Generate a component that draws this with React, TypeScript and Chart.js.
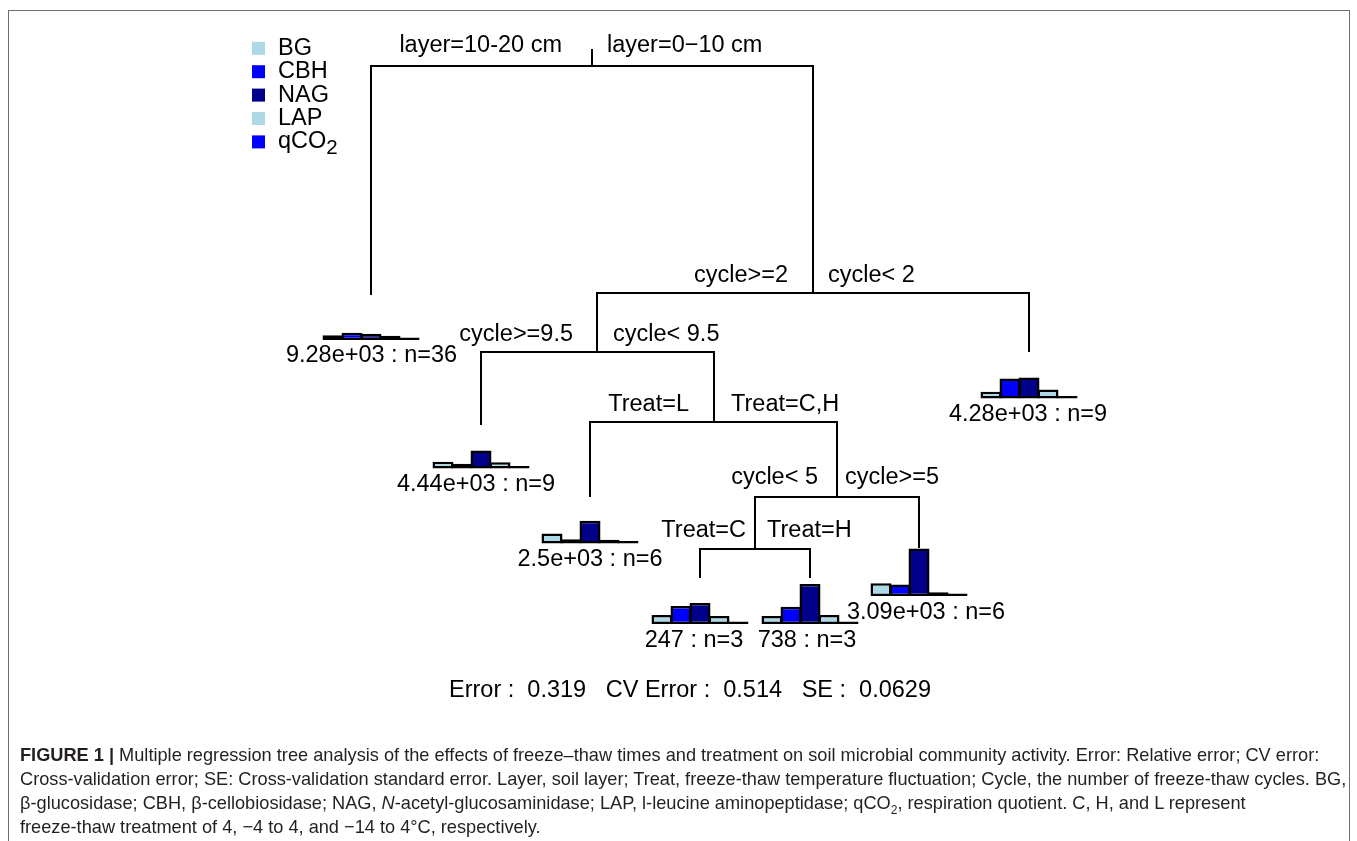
import React, { useEffect, useRef } from "react";
import { Chart, registerables } from "chart.js";

Chart.register(...registerables);

// ---------------- data ----------------
const responseNames = ["BG", "CBH", "NAG", "LAP", "qCO2"];
const responseColors = ["#ADD8E6", "#0000FF", "#00008B", "#ADD8E6", "#0000FF"];

// split labels (left branch / right branch), tree order top -> bottom
const splitLeftLabels = ["layer=10-20 cm", "cycle>=2", "cycle>=9.5", "Treat=L", "cycle< 5", "Treat=C"];
const splitRightLabels = ["layer=0\u221210 cm", "cycle< 2", "cycle< 9.5", "Treat=C,H", "cycle>=5", "Treat=H"];

// leaves, left -> right
const leafMeanLabels = ["9.28e+03", "4.44e+03", "2.5e+03", "247", "738", "3.09e+03", "4.28e+03"];
const leafCounts = [36, 9, 6, 3, 3, 6, 9];

// relative leaf means of each response (bar heights), left -> right leaves
const bgMeans = [0.1, 0.14, 0.21, 0.19, 0.17, 0.27, 0.14];
const cbhMeans = [0.15, 0.1, 0.09, 0.38, 0.36, 0.24, 0.42];
const nagMeans = [0.13, 0.38, 0.48, 0.44, 0.84, 1.0, 0.44];
const lapMeans = [0.09, 0.13, 0.08, 0.17, 0.19, 0.08, 0.19];
const qco2Means = [0.05, 0.05, 0.05, 0.05, 0.05, 0.05, 0.05];

const errorSummary = ["0.319", "0.514", "0.0629"];

// ---------------- layout ----------------
const W = 1357;
const H = 841;
const FONT = '"Liberation Sans", Arial, Helvetica, sans-serif';
const LABEL_PX = 23.5;
const BAR_UNIT_PX = 47.6;
const BAR_STEP = 19;
const BAR_WIDTH = 21;

const rootStubTop = 49;
const splitLayout = [
  { x: 592, y: 66, lx: 371, rx: 813, ly: 295, ry: 293, labelY: 52, leftEnd: 562, rightStart: 607 },
  { x: 813, y: 293, lx: 597, rx: 1029, ly: 352, ry: 352, labelY: 282, leftEnd: 788, rightStart: 828 },
  { x: 597, y: 352, lx: 481, rx: 714, ly: 425, ry: 422, labelY: 341, leftEnd: 573, rightStart: 613 },
  { x: 714, y: 422, lx: 590, rx: 837, ly: 497, ry: 497, labelY: 411, leftEnd: 689, rightStart: 731 },
  { x: 837, y: 497, lx: 755, rx: 919, ly: 549, ry: 548, labelY: 484, leftEnd: 818, rightStart: 845 },
  { x: 755, y: 549, lx: 700, rx: 810, ly: 578, ry: 578, labelY: 537, leftEnd: 746, rightStart: 767 },
];

const leafLayout = [
  { x: 371, base: 340, labelX: 371.5, labelY: 362 },
  { x: 481, base: 468.5, labelX: 476, labelY: 491 },
  { x: 590, base: 543.5, labelX: 590, labelY: 566 },
  { x: 700, base: 624, labelX: 694, labelY: 647 },
  { x: 810, base: 624, labelX: 807, labelY: 647 },
  { x: 919, base: 596, labelX: 926, labelY: 619 },
  { x: 1029, base: 398.5, labelX: 1028, labelY: 421 },
];

const legendLayout = { boxX: 252, box: 13, y0: 48.3, step: 23.4, textX: 278 };
const errorLayout = { x: 690, y: 697 };

const CAPTION_PX = 18.2;
const captionCenters = [755, 779, 803, 827];

// ---------------- chart ----------------
const responseValues = [bgMeans, cbhMeans, nagMeans, lapMeans, qco2Means];

function edgeDataset(label: string, data: { x: number; y: number }[]) {
  return {
    type: "line",
    label,
    xAxisID: "x",
    yAxisID: "ty",
    data,
    borderColor: "#000",
    borderWidth: 2,
    pointRadius: 0,
    tension: 0,
    fill: false,
    borderJoinStyle: "miter",
    borderCapStyle: "butt",
  };
}

function buildConfig(): any {
  const datasets: any[] = [];

  // tree edges
  datasets.push(
    edgeDataset("root", [
      { x: splitLayout[0].x, y: rootStubTop },
      { x: splitLayout[0].x, y: splitLayout[0].y },
    ])
  );
  splitLayout.forEach((s, i) => {
    datasets.push(
      edgeDataset(`${splitLeftLabels[i]} | ${splitRightLabels[i]}`, [
        { x: s.lx, y: s.ly },
        { x: s.lx, y: s.y },
        { x: s.rx, y: s.y },
        { x: s.rx, y: s.ry },
      ])
    );
  });

  // leaf bar plots
  const scales: any = {
    x: { type: "linear", axis: "x", position: "bottom", min: 0, max: W, display: false, offset: false, bounds: "data", grid: { offset: false } },
    ty: { type: "linear", axis: "y", position: "left", min: 0, max: H, reverse: true, display: false, bounds: "data" },
  };
  leafLayout.forEach((l, i) => {
    const id = `L${i}`;
    scales[id] = {
      type: "linear",
      axis: "y",
      position: "left",
      display: false,
      bounds: "data",
      stacked: false,
      min: -(H - l.base) / BAR_UNIT_PX,
      max: l.base / BAR_UNIT_PX,
    };
    datasets.push({
      type: "bar",
      label: `${leafMeanLabels[i]} : n=${leafCounts[i]}`,
      xAxisID: "x",
      yAxisID: id,
      data: responseNames.map((_, k) => ({ x: l.x + (k - 2) * BAR_STEP, y: responseValues[k][i] })),
      backgroundColor: responseColors,
      borderColor: "#000",
      borderWidth: 2.5,
      borderSkipped: false,
      barThickness: BAR_WIDTH,
      stack: "leaves",
      grouped: true,
      inflateAmount: 0,
    });
  });

  const textPlugin = {
    id: "treeText",
    afterDatasetsDraw(chart: any) {
      const ctx = chart.ctx as CanvasRenderingContext2D;
      const xs = chart.scales.x;
      const ys = chart.scales.ty;
      const px = (v: number) => xs.getPixelForValue(v);
      const py = (v: number) => ys.getPixelForValue(v);
      ctx.save();
      ctx.fillStyle = "#000";
      ctx.font = `${LABEL_PX}px ${FONT}`;
      ctx.textBaseline = "alphabetic";
      splitLayout.forEach((s, i) => {
        ctx.textAlign = "right";
        ctx.fillText(splitLeftLabels[i], px(s.leftEnd), py(s.labelY));
        ctx.textAlign = "left";
        ctx.fillText(splitRightLabels[i], px(s.rightStart), py(s.labelY));
      });
      leafLayout.forEach((l, i) => {
        ctx.textAlign = "center";
        ctx.fillText(`${leafMeanLabels[i]} : n=${leafCounts[i]}`, px(l.labelX), py(l.labelY));
      });

      // legend
      responseNames.forEach((name, k) => {
        const cy = py(legendLayout.y0 + k * legendLayout.step);
        ctx.fillStyle = responseColors[k];
        ctx.fillRect(px(legendLayout.boxX), cy - legendLayout.box / 2, legendLayout.box, legendLayout.box);
        ctx.fillStyle = "#000";
        ctx.textAlign = "left";
        ctx.textBaseline = "middle";
        const m = name.match(/^(.*?)(\d)$/);
        const main = m ? m[1] : name;
        ctx.font = `${LABEL_PX}px ${FONT}`;
        ctx.fillText(main, px(legendLayout.textX), cy);
        if (m) {
          const w = ctx.measureText(main).width;
          ctx.font = `${LABEL_PX - 3}px ${FONT}`;
          ctx.fillText(m[2], px(legendLayout.textX) + w, cy + 6);
        }
      });

      ctx.font = `${LABEL_PX}px ${FONT}`;
      ctx.textBaseline = "alphabetic";
      ctx.textAlign = "center";
      ctx.fillText(
        `Error :  ${errorSummary[0]}   CV Error :  ${errorSummary[1]}   SE :  ${errorSummary[2]}`,
        px(errorLayout.x),
        py(errorLayout.y)
      );
      ctx.restore();
    },
  };

  return {
    type: "bar",
    data: { datasets },
    options: {
      animation: false,
      responsive: false,
      devicePixelRatio: 1,
      events: [],
      layout: { padding: 0 },
      plugins: { legend: { display: false }, tooltip: { enabled: false }, title: { display: false } },
      scales,
    },
    plugins: [textPlugin],
  };
}

const captionStyle: React.CSSProperties = {
  position: "absolute",
  left: 20,
  whiteSpace: "nowrap",
  fontFamily: FONT,
  fontSize: CAPTION_PX,
  lineHeight: "22px",
  color: "#231f20",
};

export default function App() {
  const canvasRef = useRef<HTMLCanvasElement | null>(null);

  useEffect(() => {
    const chart = new Chart(canvasRef.current as HTMLCanvasElement, buildConfig());
    return () => chart.destroy();
  }, []);

  return (
    <div style={{ position: "fixed", left: 0, top: 0, width: W, height: H, background: "#fff", overflow: "hidden" }}>
      <canvas ref={canvasRef} width={W} height={H} style={{ position: "absolute", left: 0, top: 0, width: W, height: H }} />
      <div
        style={{
          position: "absolute",
          left: 8,
          top: 10,
          width: 1342,
          height: 900,
          border: "1px solid #6f6f6f",
          boxSizing: "border-box",
          pointerEvents: "none",
        }}
      />
      <div style={{ ...captionStyle, top: captionCenters[0] - 11 }}>
        <b>FIGURE 1 |</b> Multiple regression tree analysis of the effects of freeze–thaw times and treatment on soil
        microbial community activity. Error: Relative error; CV error:
      </div>
      <div style={{ ...captionStyle, top: captionCenters[1] - 11 }}>
        Cross-validation error; SE: Cross-validation standard error. Layer, soil layer; Treat, freeze-thaw temperature
        fluctuation; Cycle, the number of freeze-thaw cycles. BG,
      </div>
      <div style={{ ...captionStyle, top: captionCenters[2] - 11 }}>
        β-glucosidase; CBH, β-cellobiosidase; NAG, <i>N</i>-acetyl-glucosaminidase; LAP, l-leucine aminopeptidase; qCO
        <sub style={{ fontSize: 12, lineHeight: 0 }}>2</sub>, respiration quotient. C, H, and L represent
      </div>
      <div style={{ ...captionStyle, top: captionCenters[3] - 11 }}>
        freeze-thaw treatment of 4, −4 to 4, and −14 to 4°C, respectively.
      </div>
    </div>
  );
}
